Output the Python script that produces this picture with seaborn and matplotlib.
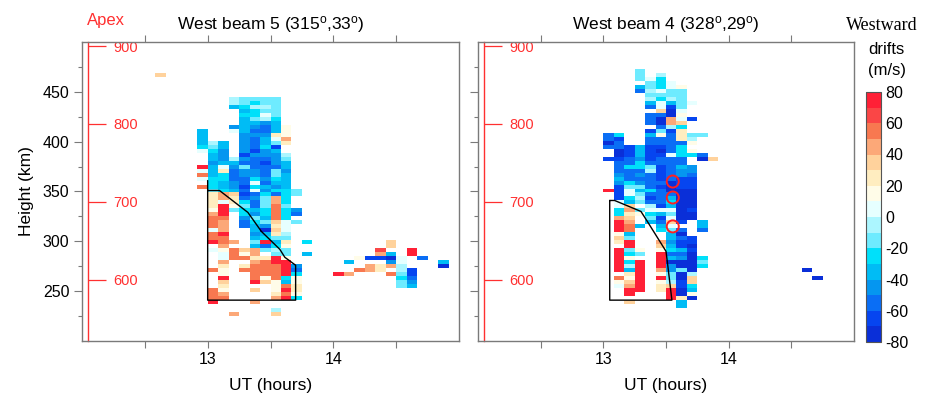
import numpy as np
import pandas as pd
import matplotlib
matplotlib.use("Agg")
import matplotlib.pyplot as plt
from matplotlib.colors import ListedColormap
import seaborn as sns

# ---------------------------------------------------------------------------
# data: one cell = 5 min of UT x 4 km height gate
# codes: A..H = -75..-5 m/s, a..h = +5..+75 m/s, '.' = no echo
codes = "ABCDEFGHabcdefgh"
code_values = np.arange(-75, 76, 10)

ut_ticks = [13, 14]
ut_minor = [12.5, 13.5, 14.5]
height_ticks = [250, 300, 350, 400, 450]
height_minor = [225, 275, 325, 375, 425, 475]
apex_ticks = [600, 700, 800, 900]
apex_heights = [261, 340, 419, 495]   # height (km) where each apex tick sits
cbar_ticks = [-80, -60, -40, -20, 0, 20, 40, 60, 80]

# west beam 5: main patch, first column 12:55 UT, top gate 441-445 km
beam5_ut0, beam5_top = 12 + 11 / 12, 445
beam5_rows = [
    "...HGGGG...",
    "...HGFGG...",
    "...EFHHG...",
    "....EFGG...",
    "....FFaG...",
    "....EGHF...",
    "....EEDE...",
    "...DEDCEb..",
    "E..aECCEb..",
    "E...DDDcb..",
    "E...DCEae..",
    "EHE.DCEGc..",
    "FGE.DCFB...",
    "aFD.DBDE...",
    ".ED.BDDDH..",
    ".EDHDCCDG..",
    ".DEECCBDE..",
    "hEaDGCCCE..",
    "aEcCDDCGD..",
    "fEFCDDCGE..",
    "aFFCCFDFE..",
    ".FEDCaCEE..",
    "fFEDBFEDE..",
    ".GFECaDFFG.",
    ".cedBCFCFG.",
    ".cecCDGeF..",
    ".cacFCGeF..",
    ".chbGCGfG..",
    ".bhGFEFfFD.",
    ".eh.FDFfFC.",
    ".ff.DGEfF..",
    ".fe.CFGdaG.",
    ".fe.CEDca..",
    ".ae..EAda..",
    ".fh..DEcH..",
    ".ff..EFGG..",
    ".hfe.GhEc.F",
    "..e..ECFb..",
    ".abfdeGHG..",
    "..afbe.GG.E",
    "..affcchb..",
    "..e..efhh..",
    "..c.cfffhD.",
    ".fb.ffffhC.",
    "..b..fffhF.",
    "..h..fbfFb.",
    "..d..hdbEb.",
    "..c....bfc.",
    ".fb..d.bhc.",
    ".fe....cfb.",
    ".ff....ehF.",
    ".h...e.....",
    "...........",
    ".......H...",
    "...e...d...",
]
# west beam 5: patch after 14 UT
beam5b_ut0, beam5b_top = 14.0, 301
beam5b_rows = [
    ".....d.....",
    ".....d.....",
    "....g..h...",
    "....eE.h...",
    "..bBBAa.C..",
    ".E...Da...E",
    "...eceH...A",
    "..fec.HB...",
    "he...fGB...",
    "......FC...",
    "......GD...",
    "......GE...",
]
# west beam 5: lone echo
beam5c_ut0, beam5c_top = 12 + 7 / 12, 469
beam5c_rows = ["d"]

# west beam 4: main patch, first column 13:00 UT, top gate 469-473 km
beam4_ut0, beam4_top = 13.0, 473
beam4_rows = [
    "...G.......",
    "...G.H.....",
    "...GaF.....",
    "....GFa....",
    "...EGFab...",
    "...CHaGG...",
    "....GGGG...",
    "....HFHG...",
    "....EaEGa..",
    "....CaBG...",
    ".....dAa...",
    "....CCAb...",
    "....CAeaB..",
    "....CAed...",
    ".....CHF...",
    "....BGBc...",
    "CF..EbCcGG.",
    "CB..CCCcH..",
    "AC..CCCCb..",
    "CCBEBBCF...",
    ".ABEBACFb..",
    ".ABEBBaFFC.",
    "BBCDBCCC.Ad",
    ".CCFCCCC...",
    ".CFFGBCED..",
    ".CCCHBCDD..",
    ".DCDCBCDC..",
    ".ECCCBCBB..",
    ".DFDCCABB..",
    ".BGGCBABB..",
    "hBaEFCAAA..",
    ".BaGCCCAA..",
    ".BFHBCEAA..",
    ".aEGCCFAA..",
    ".ad.HBEAA..",
    ".FeGaaaAB..",
    ".FcbFEGAA..",
    ".ed.GBaAA..",
    ".he.ECdB.E.",
    ".hfE.Ea..E.",
    ".hf..FGC.C.",
    ".bE...EA...",
    ".dG...ECB..",
    ".ch..eDBB..",
    "..h..dEBA..",
    ".hGb.bFEB..",
    ".hFG.hCCA..",
    ".hb..hEDAF.",
    ".hFh.hAAAG.",
    ".hHh.hDAAF.",
    ".hEh.eDGA..",
    "..ch.bGAH..",
    ".fbh.hGAd..",
    ".bdh.bHBd..",
    ".aeh.cdBF..",
    "..hh.chAE..",
    "..h...hAb..",
    "......hcA..",
    "..d....E...",
    ".......E...",
]
# west beam 4: echoes near 14.6 UT
beam4b_ut0, beam4b_top = 12 + 31 / 12, 273
beam4b_rows = ["A.", "..", ".A"]

# outlined regions and marked gates
beam5_box_ut = [13.0, 13.0, 13.70, 13.70, 13.614, 13.574, 13.427, 13.32, 13.094, 13.0]
beam5_box_h = [361, 241, 241, 276, 284, 292, 310, 329, 351, 351]
beam4_box_ut = [13.051, 13.09, 13.30, 13.356, 13.50, 13.515, 13.547, 13.051, 13.051]
beam4_box_h = [341, 341, 330, 319, 290, 275, 241, 241, 341]
beam4_circle_ut = [13.554, 13.554, 13.554]
beam4_circle_h = [360, 344, 315]

drift_colors = ["#0a2fd8", "#0645f0", "#0a6ef5", "#0596f0", "#00bcf5", "#00e0fa",
                "#6eebff", "#acf6ff", "#e6ffff", "#fffce8", "#ffedc0", "#ffd29c",
                "#fca878", "#f87850", "#fa4646", "#ff2036"]

# grid of the heatmap
ut_start, ut_step, n_ut = 12.0, 1 / 12, 36
h_start, h_step, n_h = 201, 4, 75


def to_grid(*patches):
    grid = np.full((n_h, n_ut), np.nan)
    for ut0, top, rows in patches:
        j0 = int(round((ut0 - ut_start) / ut_step))
        k0 = int(round((top - h_start) / h_step)) - 1
        for i, row in enumerate(rows):
            for j, c in enumerate(row):
                if c != ".":
                    grid[k0 - i, j0 + j] = code_values[codes.index(c)]
    cols = np.round(ut_start + ut_step * np.arange(n_ut), 3)
    idx = h_start + h_step * np.arange(n_h)
    return pd.DataFrame(grid, index=idx, columns=cols)


def ux(ut):
    return (np.asarray(ut, dtype=float) - ut_start) / ut_step


def hy(h):
    return (np.asarray(h, dtype=float) - h_start) / h_step


apex_fit = np.polyfit(apex_heights, apex_ticks, 1)


def to_apex(y):
    return apex_fit[0] * (h_start + np.asarray(y) * h_step) + apex_fit[1]


def from_apex(a):
    return ((np.asarray(a) - apex_fit[1]) / apex_fit[0] - h_start) / h_step


beam5 = to_grid((beam5_ut0, beam5_top, beam5_rows),
                (beam5b_ut0, beam5b_top, beam5b_rows),
                (beam5c_ut0, beam5c_top, beam5c_rows))
beam4 = to_grid((beam4_ut0, beam4_top, beam4_rows),
                (beam4b_ut0, beam4b_top, beam4b_rows))

sns.set_theme(style="ticks")
plt.rcParams["font.family"] = ["Liberation Sans", "DejaVu Sans"]
plt.rcParams["mathtext.fontset"] = "custom"
plt.rcParams["mathtext.rm"] = "Liberation Sans"
plt.rcParams["mathtext.it"] = "Liberation Sans"
plt.rcParams["axes.unicode_minus"] = False

W, H = 930, 396
fig = plt.figure(figsize=(W / 100, H / 100), dpi=100)
ax5 = fig.add_axes([82 / W, 55 / H, 377 / W, 299 / H])
ax4 = fig.add_axes([478 / W, 55 / H, 376 / W, 299 / H])
cax = fig.add_axes([866 / W, 54 / H, 15 / W, 250 / H])
cmap = ListedColormap(drift_colors)

panels = [
    (ax5, beam5, "West beam 5 (315$^{o}$,33$^{o}$)", beam5_box_ut, beam5_box_h),
    (ax4, beam4, "West beam 4 (328$^{o}$,29$^{o}$)", beam4_box_ut, beam4_box_h),
]
for ax, df, title, box_ut, box_h in panels:
    first = ax is ax5
    sns.heatmap(df, ax=ax, cmap=cmap, vmin=-80, vmax=80,
                cbar=first, cbar_ax=cax if first else None,
                xticklabels=False, yticklabels=False)
    ax.set_xlim(ux(12), ux(15))
    ax.set_ylim(hy(200), hy(500))
    for sp in ax.spines.values():
        sp.set_visible(True)
        sp.set_color("#7a7a7a")
        sp.set_linewidth(1.0)

    ax.plot(ux(box_ut), hy(box_h), color="black", lw=1.0)

    ax.set_xticks(ux(ut_ticks))
    ax.set_xticklabels([str(t) for t in ut_ticks])
    ax.set_xticks(ux(ut_minor), minor=True)
    ax.set_yticks(hy(height_ticks))
    ax.set_yticklabels([str(t) for t in height_ticks] if first else [])
    ax.set_yticks(hy(height_minor), minor=True)
    ax.tick_params(which="both", direction="out", color="#7a7a7a", width=0.8,
                   top=True, bottom=True, left=True, right=False,
                   labelsize=11.5, labelcolor="black", pad=3)
    ax.tick_params(axis="x", which="both", length=5)
    ax.tick_params(axis="y", which="major", length=6)
    ax.tick_params(axis="y", which="minor", length=3)

    ax.set_title(title, fontsize=12.5, color="black", pad=9)
    ax.set_xlabel("UT (hours)", fontsize=12.5, color="black", labelpad=8)
    ax.set_ylabel("Height (km)" if first else "", fontsize=12.5, color="black",
                  labelpad=6)

    sec = ax.secondary_yaxis(0.016, functions=(to_apex, from_apex))
    sec.set_alignment("right")
    sec.set_yticks(apex_ticks)
    sec.spines["right"].set_color("#ff3030")
    sec.spines["right"].set_linewidth(1.0)
    sec.tick_params(axis="y", which="major", colors="#ff3030", direction="out",
                    length=13, width=0.9, labelsize=10.5, pad=5)
    sec.tick_params(axis="y", which="minor", length=0)

ax4.scatter(ux(beam4_circle_ut), hy(beam4_circle_h), s=75,
            facecolors="none", edgecolors="#ff2020", linewidths=1.4, zorder=5)

cbar = ax5.collections[0].colorbar
cbar.set_ticks(cbar_ticks)
cbar.set_ticklabels([str(t) for t in cbar_ticks])
cbar.outline.set_linewidth(0.8)
cbar.outline.set_edgecolor("#555555")
cax.yaxis.set_minor_locator(matplotlib.ticker.MultipleLocator(10))
cax.tick_params(which="both", direction="in", left=True, right=True, length=4,
                width=0.6, color="#333333", labelsize=11.5, labelcolor="black",
                pad=3)

fig.text(106 / W, 1 - 20 / H, "Apex", color="#ff3030", fontsize=12,
         ha="center", va="center")
fig.text(882 / W, 1 - 26 / H, "Westward", family="Liberation Serif",
         fontsize=13, ha="center", va="center", color="black")
fig.text(886 / W, 1 - 50 / H, "drifts", fontsize=12, ha="center",
         va="center", color="black")
fig.text(887 / W, 1 - 70 / H, "(m/s)", fontsize=12, ha="center",
         va="center", color="black")

fig.savefig("out.png", dpi=100)
